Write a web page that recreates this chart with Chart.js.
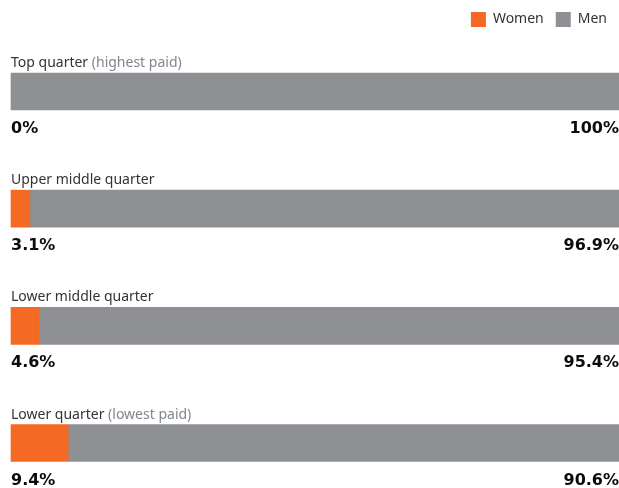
<!DOCTYPE html>
<html>
<head>
<meta charset="utf-8">
<script src="https://cdn.jsdelivr.net/npm/chart.js@4"></script>
<style>
  html, body { margin: 0; padding: 0; background: #fff; }
  #wrap { width: 619px; height: 488px; position: relative; }
</style>
</head>
<body>
<div id="wrap"><canvas id="payChart"></canvas></div>
<script>
// Pay quarters, women vs men (%)
const quarters = ['Top quarter', 'Upper middle quarter', 'Lower middle quarter', 'Lower quarter'];
const quarterNotes = ['(highest paid)', '', '', '(lowest paid)'];
const women = [0, 3.1, 4.6, 9.4];
const men = [100, 96.9, 95.4, 90.6];

const ORANGE = '#f46a25';
const GREY = '#8f9094';

// make room under the legend so the first bar sits where it should
const legendSpace = {
    id: 'legendSpace',
    beforeUpdate(chart) {
        const legend = chart.legend;
        if (legend && !legend._spaced) {
            const fit = legend.fit;
            legend.fit = function () {
                fit.call(this);
                this.height = 91.5;
            };
            legend._spaced = true;
        }
    }
};

// draws the quarter name above each bar and the two percentages below it
const quarterLabels = {
    id: 'quarterLabels',
    afterDatasetsDraw(chart) {
        const ctx = chart.ctx;
        const area = chart.chartArea;
        const meta = chart.getDatasetMeta(0);
        quarters.forEach((name, i) => {
            const bar = meta.data[i];
            const top = bar.y - bar.height / 2;
            const bottom = bar.y + bar.height / 2;
            ctx.save();
            ctx.textBaseline = 'alphabetic';
            ctx.textAlign = 'left';
            ctx.font = '14px "Noto Sans"';
            ctx.fillStyle = '#333333';
            ctx.fillText(name, area.left, top - 6);
            if (quarterNotes[i]) {
                const w = ctx.measureText(name + ' ').width;
                ctx.fillStyle = '#80878b';
                ctx.fillText(quarterNotes[i], area.left + w, top - 6);
            }
            ctx.font = 'bold 16px "DejaVu Sans"';
            ctx.fillStyle = '#0b0c0c';
            ctx.fillText(women[i] + '%', area.left, bottom + 23);
            ctx.textAlign = 'right';
            ctx.fillText(men[i] + '%', area.right, bottom + 23);
            ctx.restore();
        });
    }
};

new Chart(document.getElementById('payChart'), {
    type: 'bar',
    data: {
        labels: quarters,
        datasets: [{
            label: 'Women',
            data: women,
            // a 0% share gets no sliver at the bar's edge
            backgroundColor: women.map(v => v > 0 ? ORANGE : 'rgba(0,0,0,0)'),
            barThickness: 37,
            clip: false
        }, {
            label: 'Men',
            data: men,
            backgroundColor: GREY,
            barThickness: 37,
            clip: false
        }]
    },
    options: {
        indexAxis: 'y',
        responsive: true,
        maintainAspectRatio: false,
        animation: false,
        layout: {
            padding: { top: 0, left: 11, right: 0, bottom: 45 }
        },
        scales: {
            x: { stacked: true, min: 0, max: 100, display: false },
            y: { stacked: true, display: false, offset: false }
        },
        plugins: {
            tooltip: { enabled: false },
            legend: {
                position: 'top',
                align: 'end',
                labels: {
                    boxWidth: 15,
                    boxHeight: 15,
                    padding: 12,
                    color: '#333333',
                    font: { family: 'Noto Sans', size: 14 },
                    generateLabels(chart) {
                        return chart.data.datasets.map((ds, i) => ({
                            text: ds.label,
                            fillStyle: i === 0 ? ORANGE : GREY,
                            strokeStyle: 'rgba(0,0,0,0)',
                            lineWidth: 0,
                            fontColor: '#333333',
                            datasetIndex: i
                        }));
                    }
                }
            }
        }
    },
    plugins: [legendSpace, quarterLabels]
});
</script>
</body>
</html>
